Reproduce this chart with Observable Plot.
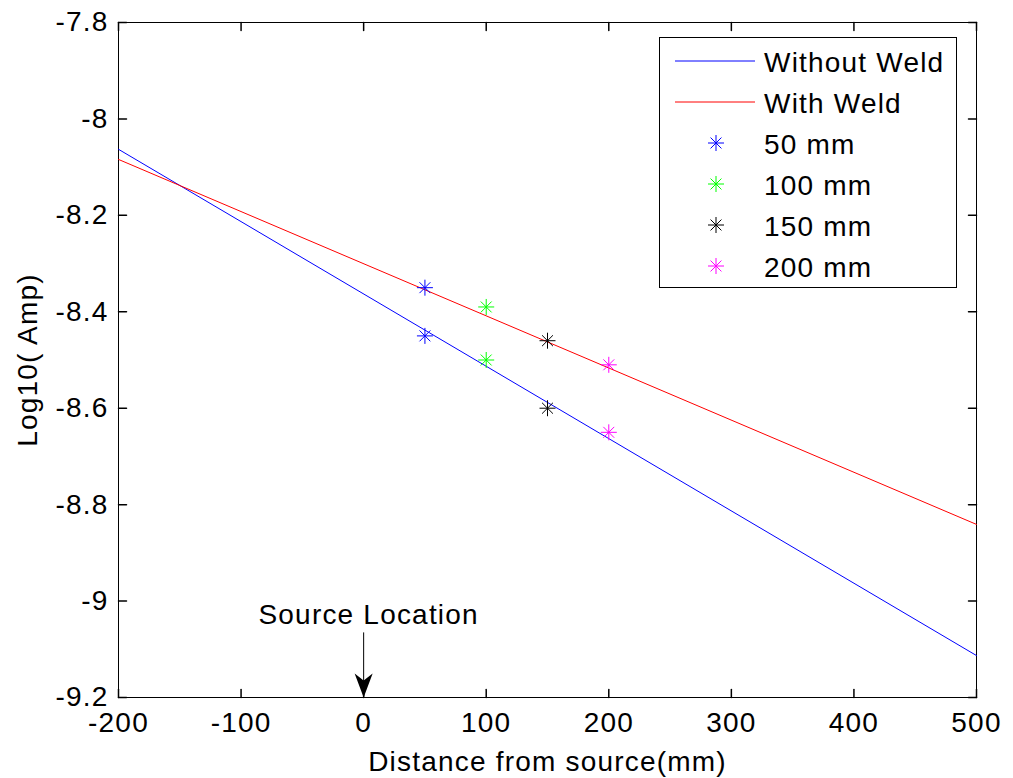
<!DOCTYPE html>
<html><head><meta charset="utf-8">
<script src="https://cdn.jsdelivr.net/npm/d3@7"></script>
<script src="https://cdn.jsdelivr.net/npm/@observablehq/plot@0.6"></script>
<style>
body{margin:0;background:#fff;font-family:"Liberation Sans",Arial,sans-serif;}
#wrap{position:relative;width:1013px;height:778px;}
#legend{position:absolute;left:659px;top:37px;}
svg text{letter-spacing:1.2px;}
</style></head><body><div id="wrap"></div>
<script>
// ---- data ----
const lineNames = ["Without Weld", "With Weld"];
const lineColors = ["#0000ff", "#ff0000"];
const lineX = [-200, 500];
const withoutWeldY = [-8.063, -9.113];
const withWeldY = [-8.084, -8.841];

const markerLabels = ["50 mm", "100 mm", "150 mm", "200 mm"];
const markerColors = ["#0000ff", "#00ff00", "#000000", "#ff00ff"];
const markerX = [50, 100, 150, 200];
const markerWithWeld = [-8.35, -8.39, -8.46, -8.51];
const markerWithoutWeld = [-8.45, -8.50, -8.60, -8.65];

const xTicks = [-200, -100, 0, 100, 200, 300, 400, 500];
const yTicks = [-7.8, -8, -8.2, -8.4, -8.6, -8.8, -9, -9.2];
const xLabel = "Distance from source(mm)";
const yLabel = "Log10( Amp)";
const annotationText = "Source Location";
const annotationX = 0;
const annotationTextY = -9.028;
const annotationArrowY = [-9.066, -9.2];

// ---- build tables ----
const lineSeries = [withoutWeldY, withWeldY];
const lines = lineSeries.flatMap((ys, s) => ys.map((y, i) => ({x: lineX[i], y, s: lineNames[s], c: lineColors[s]})));
const points = markerX.flatMap((x, i) => [
  {x, y: markerWithWeld[i], c: markerColors[i]},
  {x, y: markerWithoutWeld[i], c: markerColors[i]}
]);

const star = {draw(ctx, size) {
  const r = Math.sqrt(size / Math.PI), d = r * 0.68;
  ctx.moveTo(-r, 0); ctx.lineTo(r, 0);
  ctx.moveTo(0, -r); ctx.lineTo(0, r);
  ctx.moveTo(-d, -d); ctx.lineTo(d, d);
  ctx.moveTo(-d, d); ctx.lineTo(d, -d);
}};
const arrowHead = {draw(ctx) {
  ctx.moveTo(0, 0); ctx.lineTo(-9, -24); ctx.lineTo(0, -17); ctx.lineTo(9, -24); ctx.closePath();
}};
const tickShape = {draw(ctx, l) { ctx.moveTo(0, 0); ctx.lineTo(0, -l); }};

const fmtY = d => String(+d.toFixed(1));
const X0 = xTicks[0], X1 = xTicks[xTicks.length - 1];
const Y0 = d3.min(yTicks), Y1 = d3.max(yTicks);

const chart = Plot.plot({
  width: 1013, height: 778,
  marginTop: 22, marginRight: 37, marginBottom: 81, marginLeft: 118,
  style: {fontFamily: '"Liberation Sans", Arial, sans-serif', fontSize: "28px", color: "black", background: "white"},
  x: {domain: [X0, X1]},
  y: {domain: [Y0, Y1]},
  color: {type: "identity"},
  marks: [
    Plot.frame({stroke: "black", strokeWidth: 1}),
    Plot.axisX({ticks: xTicks, tickSize: 0, tickPadding: 15, tickFormat: d => String(d), label: null}),
    Plot.axisY({ticks: yTicks, tickSize: 0, tickPadding: 10, tickFormat: fmtY, label: null}),
    Plot.vector(xTicks, {x: d => d, y: Y0, length: 8, rotate: 0, anchor: "start", shape: tickShape, stroke: "black"}),
    Plot.vector(xTicks, {x: d => d, y: Y1, length: 8, rotate: 180, anchor: "start", shape: tickShape, stroke: "black"}),
    Plot.vector(yTicks, {x: X0, y: d => d, length: 8, rotate: 90, anchor: "start", shape: tickShape, stroke: "black"}),
    Plot.vector(yTicks, {x: X1, y: d => d, length: 8, rotate: 270, anchor: "start", shape: tickShape, stroke: "black"}),
    Plot.line(lines, {x: "x", y: "y", z: "s", stroke: "c", strokeWidth: 1}),
    Plot.dot(points, {x: "x", y: "y", stroke: "c", fill: "none", symbol: star, r: 8, strokeWidth: 1}),
    Plot.ruleX([annotationX], {y1: annotationArrowY[0], y2: annotationArrowY[1], stroke: "black", strokeWidth: 1}),
    Plot.dot([annotationX], {x: d => d, y: annotationArrowY[1], symbol: arrowHead, fill: "black", stroke: "none"}),
    Plot.text([annotationText], {x: annotationX, y: annotationTextY, text: d => d, dx: 5, fill: "black"}),
    Plot.text([yLabel], {frameAnchor: "left", dx: -90, rotate: -90, textAnchor: "middle", lineAnchor: "middle", text: d => d, fill: "black"}),
    Plot.text([xLabel], {frameAnchor: "bottom", dy: 65, textAnchor: "middle", lineAnchor: "middle", text: d => d, fill: "black"})
  ]
});
const wrap = document.getElementById("wrap");
wrap.appendChild(chart);

// ---- legend (inside plot, top right) ----
const lw = 298, lh = 251, rowH = 41, firstRow = 24;
const leg = d3.create("svg").attr("id", "legend").attr("width", lw).attr("height", lh)
  .style("font-family", '"Liberation Sans", Arial, sans-serif').style("font-size", "28px");
leg.append("rect").attr("x", 0.5).attr("y", 0.5).attr("width", lw - 1).attr("height", lh - 1)
  .attr("fill", "white").attr("stroke", "black");
const entries = [
  ...lineNames.map((n, i) => ({name: n, color: lineColors[i], type: "line"})),
  ...markerLabels.map((n, i) => ({name: n, color: markerColors[i], type: "marker"}))
];
entries.forEach((e, i) => {
  const cy = firstRow + i * rowH;
  const g = leg.append("g").attr("transform", `translate(0,${cy})`);
  if (e.type === "line") {
    g.append("line").attr("x1", 16).attr("x2", 96).attr("y1", 0).attr("y2", 0).attr("stroke", e.color);
  } else {
    const p = d3.path(); star.draw(p, 64 * Math.PI);
    g.append("path").attr("d", p.toString()).attr("transform", "translate(57,0)").attr("stroke", e.color).attr("fill", "none");
  }
  g.append("text").attr("x", 105).attr("y", 0).attr("dy", "0.38em").text(e.name);
});
wrap.appendChild(leg.node());
</script></body></html>
